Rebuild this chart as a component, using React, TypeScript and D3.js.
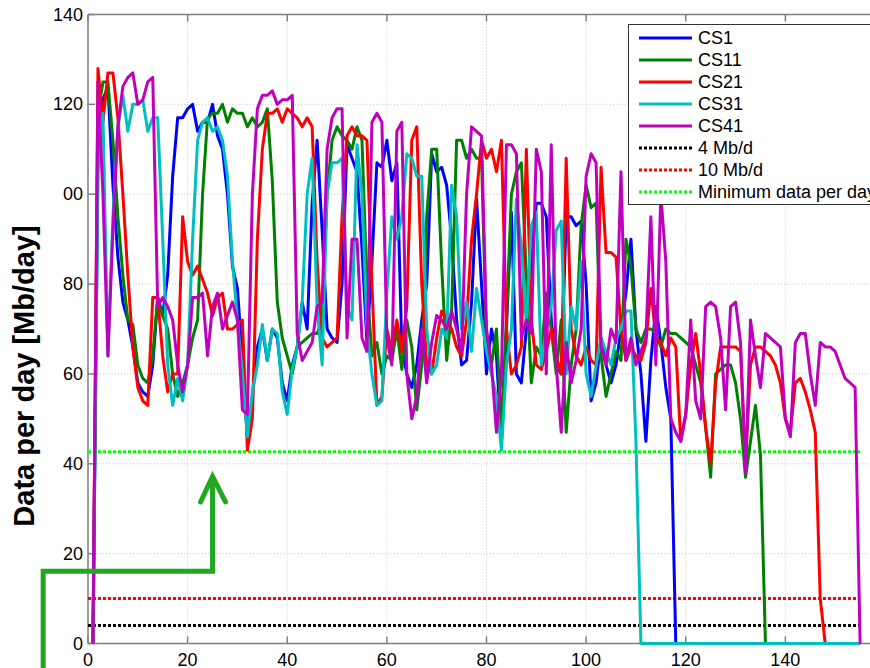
import React, { useEffect } from 'react';
import * as d3 from 'd3';

const W = 870;
const H = 668;

const xTicks = [0, 20, 40, 60, 80, 100, 120, 140];
const yTicks = [0, 20, 40, 60, 80, 100, 120, 140];

// Daily data volume per station (Mb/day), day 1 .. 155
const cs1 = [
  0, 108, 121, 124, 102, 86, 76, 72, 66, 58,
  56, 55, 62, 77, 73, 82, 104, 117, 117, 119,
  120, 114, 116, 116, 120, 113, 110, 100, 84, 79,
  63, 46, 55, 66, 70, 63, 70, 68, 58, 54,
  62, 66, 76, 70, 98, 112, 92, 70, 68, 67,
  80, 111, 108, 105, 88, 67, 85, 107, 106, 112,
  103, 107, 66, 60, 57, 62, 72, 80, 109, 105,
  106, 102, 90, 72, 62, 63, 76, 99, 80, 60,
  70, 64, 45, 70, 96, 60, 58, 70, 85, 98,
  98, 95, 72, 62, 60, 95, 95, 93, 94, 80,
  54, 58, 68, 62, 58, 62, 70, 78, 90, 70,
  60, 45, 63, 75, 67, 57, 50, 0, 0, 0,
  0, 0, 0, 0, 0, 0, 0, 0, 0, 0,
  0, 0, 0, 0, 0, 0, 0, 0, 0, 0,
  0, 0, 0, 0, 0, 0, 0, 0, 0, 0,
  0, 0, 0, 0, 0,
];

const cs11 = [
  0, 118, 125, 125, 112, 95, 82, 72, 71, 62,
  59, 58, 64, 77, 73, 70, 60, 55, 58, 62,
  68, 72, 100, 117, 118, 118, 120, 116, 119, 118,
  118, 115, 117, 115, 116, 119, 103, 76, 68, 64,
  60, 66, 67, 68, 69, 69, 72, 100, 112, 115,
  113, 112, 110, 115, 112, 80, 64, 67, 60, 64,
  63, 70, 61, 72, 66, 52, 62, 95, 110, 110,
  84, 63, 74, 112, 112, 108, 110, 108, 108, 67,
  62, 70, 48, 72, 100, 105, 107, 82, 58, 66,
  64, 78, 70, 60, 72, 47, 62, 70, 93, 102,
  97, 98, 64, 55, 60, 65, 63, 90, 84, 70,
  67, 70, 70, 69, 66, 70, 69, 69, 68, 67,
  66, 62, 58, 48, 37, 60, 61, 62, 62, 58,
  50, 37, 45, 53, 42, 0, 0, 0, 0, 0,
  0, 0, 0, 0, 0, 0, 0, 0, 0, 0,
  0, 0, 0, 0, 0,
];

const cs21 = [
  0, 128, 116, 127, 127, 117, 100, 82, 66, 57,
  54, 53, 77, 77, 64, 56, 60, 60, 95, 85,
  82, 84, 81, 78, 73, 77, 78, 70, 70, 71,
  72, 43, 50, 90, 110, 118, 118, 119, 116, 119,
  118, 117, 115, 117, 115, 85, 68, 66, 67, 68,
  95, 113, 115, 113, 113, 112, 80, 53, 55, 70,
  65, 72, 65, 75, 112, 115, 80, 62, 60, 68,
  74, 72, 70, 66, 64, 72, 90, 100, 112, 108,
  110, 105, 112, 70, 60, 62, 66, 110, 72, 62,
  61, 65, 70, 64, 60, 108, 70, 64, 62, 66,
  63, 62, 106, 87, 87, 86, 70, 63, 66, 64,
  63, 67, 79, 68, 67, 64, 68, 66, 45, 51,
  62, 69, 60, 48, 40, 58, 66, 66, 66, 66,
  65, 40, 62, 66, 66, 65, 64, 62, 58, 50,
  47, 58, 59, 56, 52, 47, 10, 0, 0, 0,
  0, 0, 0, 0, 0,
];

const cs31 = [
  0, 105, 118, 64, 95, 115, 122, 114, 120, 120,
  121, 114, 117, 117, 90, 62, 53, 59, 54, 62,
  90, 112, 116, 117, 114, 115, 112, 104, 85, 72,
  60, 46, 56, 62, 71, 63, 70, 69, 56, 51,
  61, 66, 76, 100, 108, 75, 62, 100, 107, 107,
  108, 75, 72, 111, 100, 70, 60, 53, 54, 78,
  95, 90, 95, 109, 108, 104, 104, 70, 60, 62,
  70, 68, 102, 95, 70, 76, 65, 79, 72, 65,
  60, 55, 43, 62, 70, 99, 88, 71, 93, 96,
  62, 70, 75, 92, 94, 60, 75, 70, 85, 60,
  55, 62, 68, 65, 62, 68, 70, 74, 74, 45,
  0, 0, 0, 0, 0, 0, 0, 0, 0, 0,
  0, 0, 0, 0, 0, 0, 0, 0, 0, 0,
  0, 0, 0, 0, 0, 0, 0, 0, 0, 0,
  0, 0, 0, 0, 0, 0, 0, 0, 0, 0,
  0, 0, 0, 0, 0,
];

const cs41 = [
  0, 125, 100, 64, 92, 115, 124, 126, 127, 120,
  121, 125, 126, 75, 77, 75, 72, 62, 56, 62,
  77, 77, 78, 64, 75, 78, 70, 73, 76, 72,
  52, 51, 100, 119, 122, 122, 123, 120, 121, 121,
  122, 69, 63, 65, 67, 75, 76, 110, 117, 119,
  119, 68, 90, 90, 68, 65, 116, 118, 116, 68,
  62, 114, 116, 60, 50, 55, 70, 58, 67, 73,
  72, 70, 74, 70, 65, 100, 115, 114, 113, 70,
  62, 47, 60, 111, 111, 109, 68, 72, 69, 110,
  105, 60, 111, 62, 47, 67, 58, 63, 70, 104,
  109, 107, 66, 62, 70, 67, 105, 63, 68, 62,
  65, 68, 95, 62, 100, 85, 50, 47, 45, 51,
  72, 54, 50, 75, 76, 75, 68, 52, 75, 76,
  67, 38, 72, 64, 57, 69, 68, 67, 66, 50,
  46, 67, 69, 69, 60, 53, 67, 66, 66, 65,
  62, 59, 58, 57, 0,
];

const seriesNames = ['CS1', 'CS11', 'CS21', 'CS31', 'CS41'];
const seriesValues = [cs1, cs11, cs21, cs31, cs41];
const seriesColors = ['#0000ff', '#008000', '#ff0000', '#00bfbf', '#bf00bf'];

// Horizontal reference levels
const thresholdNames = ['4 Mb/d', '10 Mb/d', 'Minimum data per day'];
const thresholdValues = [4, 10, 42.7];
const thresholdColors = ['#000000', '#ff0000', '#00ff00'];
const thresholdSpan = [0, 155];

// Callout arrow, in data units (day, Mb/day)
const arrowPath: [number, number][] = [[-9, -10], [-9, 16.1], [25, 16.1], [25, 36.5]];
const arrowHead: [number, number][] = [[22.6, 31.5], [25, 37.2], [27.6, 31.5]];

const FONT = '"Liberation Sans", Arial, Helvetica, sans-serif';

export default function App() {
  useEffect(() => {
    document.body.style.margin = '0';
  }, []);

  const x = d3.scaleLinear().domain([0, 160]).range([88, 885]);
  const y = d3.scaleLinear().domain([0, 140]).range([643.5, 14.5]);

  const left = x(0);
  const right = x(160);
  const top = y(140);
  const bottom = y(0);

  const line = d3
    .line<number>()
    .x((_, i) => x(i + 1))
    .y((v) => y(v));

  const ptLine = d3
    .line<[number, number]>()
    .x((p) => x(p[0]))
    .y((p) => y(p[1]));

  const legendX = 628.5;
  const legendY = 24.5;
  const rowH = 22;
  const legendEntries = [
    ...seriesNames.map((n, i) => ({ name: n, color: seriesColors[i], dash: undefined as string | undefined })),
    ...thresholdNames.map((n, i) => ({ name: n, color: thresholdColors[i], dash: '3 2' })),
  ];

  return (
    <svg
      width={W}
      height={H}
      viewBox={`0 0 ${W} ${H}`}
      style={{ position: 'absolute', left: 0, top: 0, background: '#fff', fontFamily: FONT }}
    >
      <rect x={0} y={0} width={W} height={H} fill="#fff" />

      {/* grid */}
      <g stroke="#c8c8c8" strokeWidth={1} strokeDasharray="1 2">
        {xTicks.map((t) => (
          <line key={`gx${t}`} x1={x(t)} x2={x(t)} y1={top} y2={bottom} />
        ))}
        {yTicks.map((t) => (
          <line key={`gy${t}`} x1={left} x2={right} y1={y(t)} y2={y(t)} />
        ))}
      </g>

      {/* axes box and ticks */}
      <g stroke="#808080" strokeWidth={1.5} fill="none">
        <line x1={left} x2={right} y1={top} y2={top} />
        <line x1={left} x2={right} y1={bottom} y2={bottom} />
        <line x1={left} x2={left} y1={top} y2={bottom} />
        {xTicks.map((t) => (
          <g key={`tx${t}`}>
            <line x1={x(t)} x2={x(t)} y1={bottom} y2={bottom - 7} />
            <line x1={x(t)} x2={x(t)} y1={top} y2={top + 7} />
          </g>
        ))}
        {yTicks.map((t) => (
          <line key={`ty${t}`} x1={left} x2={left + 7} y1={y(t)} y2={y(t)} />
        ))}
      </g>

      {/* tick labels */}
      <g fontSize={18} fill="#000">
        {xTicks.map((t) => (
          <text key={`lx${t}`} x={x(t)} y={666} textAnchor="middle">
            {t}
          </text>
        ))}
        {yTicks.map((t) => (
          <text key={`ly${t}`} x={83} y={y(t)} textAnchor="end" dominantBaseline="central">
            {t}
          </text>
        ))}
      </g>
      {/* white patch over the left of the 100 label */}
      <rect x={50} y={y(100) - 10} width={12.5} height={20} fill="#fff" />

      {/* y axis title */}
      <text
        transform={`translate(34, 376) rotate(-90)`}
        textAnchor="middle"
        fontSize={29}
        fontWeight="bold"
        fill="#000"
      >
        Data per day [Mb/day]
      </text>

      {/* reference levels */}
      {thresholdValues.map((v, i) => (
        <line
          key={`th${i}`}
          x1={x(thresholdSpan[0])}
          x2={x(thresholdSpan[1])}
          y1={y(v)}
          y2={y(v)}
          stroke={thresholdColors[i]}
          strokeWidth={3}
          strokeDasharray="3 2"
        />
      ))}

      {/* station series */}
      {seriesValues.map((vals, i) => (
        <path
          key={seriesNames[i]}
          d={line(vals) || ''}
          fill="none"
          stroke={seriesColors[i]}
          strokeWidth={3}
          strokeLinejoin="round"
        />
      ))}

      {/* legend */}
      <rect x={legendX} y={legendY} width={270} height={180} fill="#fff" stroke="#333" strokeWidth={1} />
      {legendEntries.map((e, i) => {
        const cy = 38 + i * rowH;
        return (
          <g key={e.name}>
            <line x1={639} x2={692} y1={cy} y2={cy} stroke={e.color} strokeWidth={3} strokeDasharray={e.dash} />
            <text x={698} y={cy} fontSize={18} dominantBaseline="central" fill="#000">
              {e.name}
            </text>
          </g>
        );
      })}

      {/* callout arrow */}
      <path d={ptLine(arrowPath) || ''} fill="none" stroke="#20a820" strokeWidth={5} strokeLinejoin="miter" />
      <path
        d={ptLine(arrowHead) || ''}
        fill="none"
        stroke="#20a820"
        strokeWidth={5}
        strokeLinejoin="miter"
        strokeLinecap="round"
      />
    </svg>
  );
}
